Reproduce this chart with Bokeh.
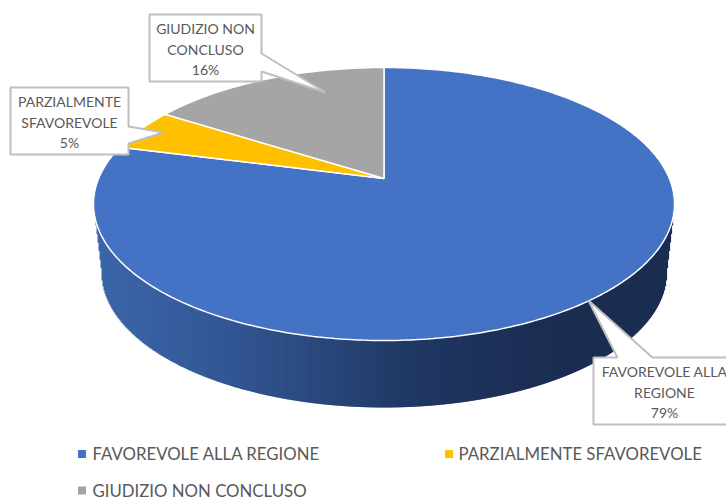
import math
from bokeh.plotting import figure
from bokeh.models import Range1d
from bokeh.core.properties import value
from bokeh.embed import file_html
from bokeh.resources import INLINE

categories = ["FAVOREVOLE ALLA REGIONE", "PARZIALMENTE SFAVOREVOLE", "GIUDIZIO NON CONCLUSO"]
values = [79, 5, 16]
colors = ["#4472C4", "#FFC000", "#A5A5A5"]
label_lines = [["FAVOREVOLE ALLA", "REGIONE"], ["PARZIALMENTE", "SFAVOREVOLE"], ["GIUDIZIO NON", "CONCLUSO"]]

TEXT = "#595959"
FONT = "Lato"
W, H = 726, 500

p = figure(width=W, height=H, output_backend="svg", toolbar_location=None,
           x_range=Range1d(0, W), y_range=Range1d(H, 0),
           x_axis_type=None, y_axis_type=None, min_border=0, outline_line_color=None)
p.grid.visible = False
p.background_fill_color = "white"

# geometry of the tilted pie (pixel space of the picture)
CX, TOP, BOT, AY, RX = 383.5, 67.0, 340.0, 178.0, 290.5
C = -(2 * AY - TOP - BOT) / (BOT - TOP)
A = TOP + TOP * C - AY
S = RX * math.sqrt(1 - C * C)
EY, RY = (TOP + BOT) / 2, (BOT - TOP) / 2
LOW_RX, LOW_CY, LOW_RY = 282.5, 272.0, 135.0


def rim(theta):
    u, v = math.sin(theta), math.cos(theta)
    w = 1 + C * v
    return CX + S * u / w, (A * v + AY) / w


def lower_y(x):
    d = abs(x - CX)
    if d <= LOW_RX:
        return LOW_CY + LOW_RY * math.sqrt(1 - (d / LOW_RX) ** 2)
    t = (d - LOW_RX) / (RX - LOW_RX)
    return LOW_CY + (EY - LOW_CY) * t


# wall shading, left to right
stops = [(93, (60, 103, 170)), (200, (52, 90, 153)), (300, (44, 75, 130)), (400, (33, 57, 102)),
         (500, (28, 48, 88)), (590, (26, 44, 80)), (674, (26, 44, 80))]


def shade(x):
    for (x0, c0), (x1, c1) in zip(stops, stops[1:]):
        if x <= x1:
            t = (x - x0) / (x1 - x0)
            return "#%02x%02x%02x" % tuple(round(a + (b - a) * t) for a, b in zip(c0, c1))
    return "#1a2c50"


xs = [CX - RX + 1 + i for i in range(int(2 * RX) - 2)]
p.quad(left=xs, right=[min(x + 1.6, CX + RX - 1) for x in xs], top=[EY + 2 for x in xs],
       bottom=[lower_y(x + 0.5) for x in xs], fill_color=[shade(x) for x in xs], line_color=None)

# slices
total = sum(values)
start = 0.0
for val, col in zip(values, colors):
    end = start + val / total * 2 * math.pi
    n = max(8, int(val * 4))
    pts = [rim(start + (end - start) * i / n) for i in range(n + 1)]
    p.patch([CX] + [a for a, _ in pts], [AY] + [b for _, b in pts], fill_color=col,
            line_color="white", line_width=1.5)
    start = end

# callouts: (value index, box, pointer base and tip)
callouts = [
    (0, (593, 357, 745, 424), "top", (617, 652), (588, 300), 664),
    (1, (10, 87, 128, 154), "right", (126, 143), (163, 132), 69),
    (2, (149, 14, 261, 81), "right", (53, 71), (325, 92), 205),
]
for idx, (l, t, r, b), side, base, tip, tx in callouts:
    if side == "top":
        px = [l, base[0], tip[0], base[1], r, r, l]
        py = [t, t, tip[1], t, t, b, b]
    else:
        px = [l, r, r, tip[0], r, r, l]
        py = [t, t, base[0], tip[1], base[1], b, b]
    p.patch(px, py, fill_color="white", line_color="#BFBFBF", line_width=2)
    lines = label_lines[idx] + [f"{values[idx]}%"]
    p.text(x=[tx] * 3, y=[t + 14 + 20.5 * i for i in range(3)], text=lines,
           text_font=value(FONT), text_font_size="14px", text_color=TEXT,
           text_align="center", text_baseline="middle")

# legend
legend_pos = [(78, 92, 453), (445, 458, 453), (78, 92, 489.5)]
for name, col, (sx, tx, y) in zip(categories, colors, legend_pos):
    p.scatter(x=[sx + 3.5], y=[y + 0.5], marker="square", size=8, fill_color=col, line_color=None)
    p.text(x=[tx], y=[y], text=[name], text_font=value(FONT), text_font_size="16.8px",
           text_color=TEXT, text_align="left", text_baseline="middle")

open("out.html", "w").write(file_html(p, INLINE))
